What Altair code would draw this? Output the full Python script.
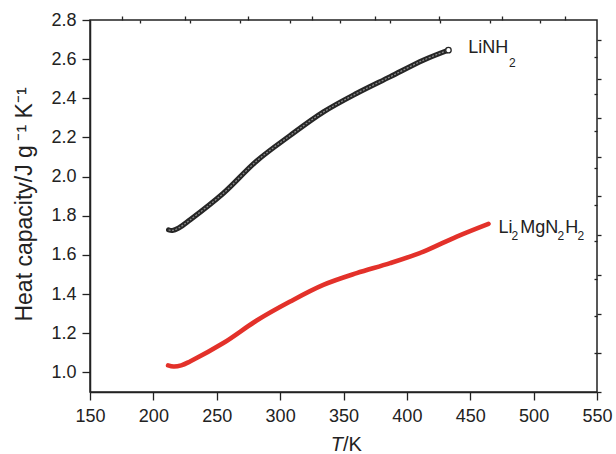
import altair as alt
import pandas as pd

# LiNH2 series (T in K, heat capacity in J g^-1 K^-1)
T_LiNH2 = [212, 215, 220, 228.9, 255.2, 281.5, 307.9, 334.1, 360.4, 386.8, 413.1, 432.8]
C_LiNH2 = [1.728, 1.725, 1.738, 1.779, 1.915, 2.080, 2.210, 2.330, 2.425, 2.510, 2.595, 2.646]

# Li2MgN2H2 series
T_Li2Mg = [211.6, 216, 222, 228.9, 255.2, 281.5, 307.9, 334.1, 360.4, 386.8, 413.1, 439.4, 464.4]
C_Li2Mg = [1.036, 1.030, 1.036, 1.056, 1.150, 1.265, 1.362, 1.447, 1.507, 1.558, 1.617, 1.694, 1.759]

x_major = [150, 200, 250, 300, 350, 400, 450, 500, 550]
x_minor = [175, 225, 275, 325, 375, 425, 475, 525]
y_major = [1.0, 1.2, 1.4, 1.6, 1.8, 2.0, 2.2, 2.4, 2.6, 2.8]
y_minor = [0.9, 1.1, 1.3, 1.5, 1.7, 1.9, 2.1, 2.3, 2.5, 2.7]
x_top_ticks = [189.5, 229, 268.5, 308, 347.4, 386.9, 426.4, 465.9, 505.3]
y_right_ticks = [1.098, 1.287, 1.477, 1.669, 1.856, 2.046, 2.235, 2.42, 2.609]

FONT = "Liberation Sans"
INK = "#222222"

df_a = pd.DataFrame({"T": T_LiNH2, "C": C_LiNH2})
df_b = pd.DataFrame({"T": T_Li2Mg, "C": C_Li2Mg})
df_end = pd.DataFrame({"T": [T_LiNH2[-1]], "C": [C_LiNH2[-1]]})

xs = alt.Scale(domain=[150, 550], nice=False, zero=False)
ys = alt.Scale(domain=[0.9, 2.8], nice=False, zero=False)

ax_common = dict(labelFont=FONT, titleFont=FONT, domainColor=INK, tickColor=INK,
                 labelColor=INK, grid=False)

x_major_axis = alt.Axis(values=x_major, tickSize=8, tickWidth=1.3, labelFontSize=18,
                        labelPadding=7, domainWidth=1.5, title=None, format="d",
                        labelFlush=False, **ax_common)
y_major_axis = alt.Axis(values=y_major, tickSize=8, tickWidth=1.3, labelFontSize=18,
                        labelPadding=6, domainWidth=1.5, format=".1f",
                        title="Heat capacity/J g\u2009\u207b\u00b9 K\u207b\u00b9",
                        titleFontSize=23, titleFontWeight="normal", titleColor=INK,
                        titleAngle=270, titleX=-59, titleY=184, titleAlign="center",
                        titleBaseline="alphabetic", labelFlush=False, **ax_common)
x_minor_axis = alt.Axis(values=x_minor, tickSize=4, tickWidth=1.3, labels=False,
                        domain=False, title=None, **ax_common)
y_minor_axis = alt.Axis(values=y_minor, tickSize=4, tickWidth=1.3, labels=False,
                        domain=False, title=None, **ax_common)
x_top_axis = alt.Axis(orient="top", values=x_top_ticks, tickSize=3, tickWidth=1.3,
                      offset=-3, labels=False, domain=False, title=None, **ax_common)
y_right_axis = alt.Axis(orient="right", values=y_right_ticks, tickSize=3, tickWidth=1.3,
                        offset=-3, labels=False, domain=False, title=None, **ax_common)

red = alt.Chart(df_b).mark_line(color="#e3312a", strokeWidth=4.6, interpolate="catmull-rom",
                                strokeCap="round").encode(
    x=alt.X("T:Q", scale=xs, axis=x_major_axis),
    y=alt.Y("C:Q", scale=ys, axis=y_major_axis),
)

black_outer = alt.Chart(df_a).mark_line(color="#262626", strokeWidth=5.2,
                                        interpolate="catmull-rom", strokeCap="round").encode(
    x=alt.X("T:Q", scale=xs, axis=x_minor_axis),
    y=alt.Y("C:Q", scale=ys, axis=y_minor_axis),
)

black_inner = alt.Chart(df_a).mark_line(color="#8a8a8a", strokeWidth=1.3,
                                        interpolate="catmull-rom", strokeDash=[2, 1.5]).encode(
    x=alt.X("T:Q", scale=xs, axis=x_top_axis),
    y=alt.Y("C:Q", scale=ys, axis=y_right_axis),
)

end_pt = alt.Chart(df_end).mark_point(shape="circle", size=30, filled=True, fill="white",
                                      stroke="#262626", strokeWidth=1.3, opacity=1).encode(
    x=alt.X("T:Q", scale=xs, axis=None),
    y=alt.Y("C:Q", scale=ys, axis=None),
)


def label(text, xv, yv, dx, dy, size, style="normal"):
    return alt.Chart(pd.DataFrame({"t": [text]})).mark_text(
        text=text, font=FONT, fontSize=size, color=INK, align="left",
        baseline="alphabetic", dx=dx, dy=dy, fontStyle=style,
    ).encode(x=alt.X("x:Q", scale=xs, axis=None),
             y=alt.Y("y:Q", scale=ys, axis=None)).transform_calculate(x=str(xv), y=str(yv))


ax_, ay_ = T_LiNH2[-1], C_LiNH2[-1]
bx_, by_ = T_Li2Mg[-1], C_Li2Mg[-1]

labels = [
    label("LiNH", ax_, ay_, 19.7, 3.3, 18),
    label("2", ax_, ay_, 60.5, 16.5, 12),
    label("Li", bx_, by_, 10, 9.3, 18),
    label("2", bx_, by_, 23, 16, 12),
    label("MgN", bx_, by_, 31.7, 9.3, 18),
    label("2", bx_, by_, 69, 16, 12),
    label("H", bx_, by_, 76.7, 9.3, 18),
    label("2", bx_, by_, 89, 16, 12),
]

xt_T = alt.Chart(pd.DataFrame({"t": ["T"]})).mark_text(
    text="T", font=FONT, fontSize=20, fontStyle="italic", color=INK, align="left",
    baseline="alphabetic").encode(x=alt.value(240.7), y=alt.value(431))
xt_K = alt.Chart(pd.DataFrame({"t": ["/K"]})).mark_text(
    text="/K", font=FONT, fontSize=20, color=INK, align="left",
    baseline="alphabetic").encode(x=alt.value(253), y=alt.value(431))

chart = alt.layer(red, black_outer, black_inner, end_pt, *labels, xt_T, xt_K).resolve_axis(
    x="independent", y="independent"
).properties(
    width=507, height=372,
    autosize=alt.AutoSizeParams(type="none"),
    padding={"left": 90, "top": 20, "right": 19, "bottom": 62},
    background="white",
).configure_view(stroke=INK, strokeWidth=1.5)

chart.save("out.html", embed_options={"renderer": "svg", "actions": False})
